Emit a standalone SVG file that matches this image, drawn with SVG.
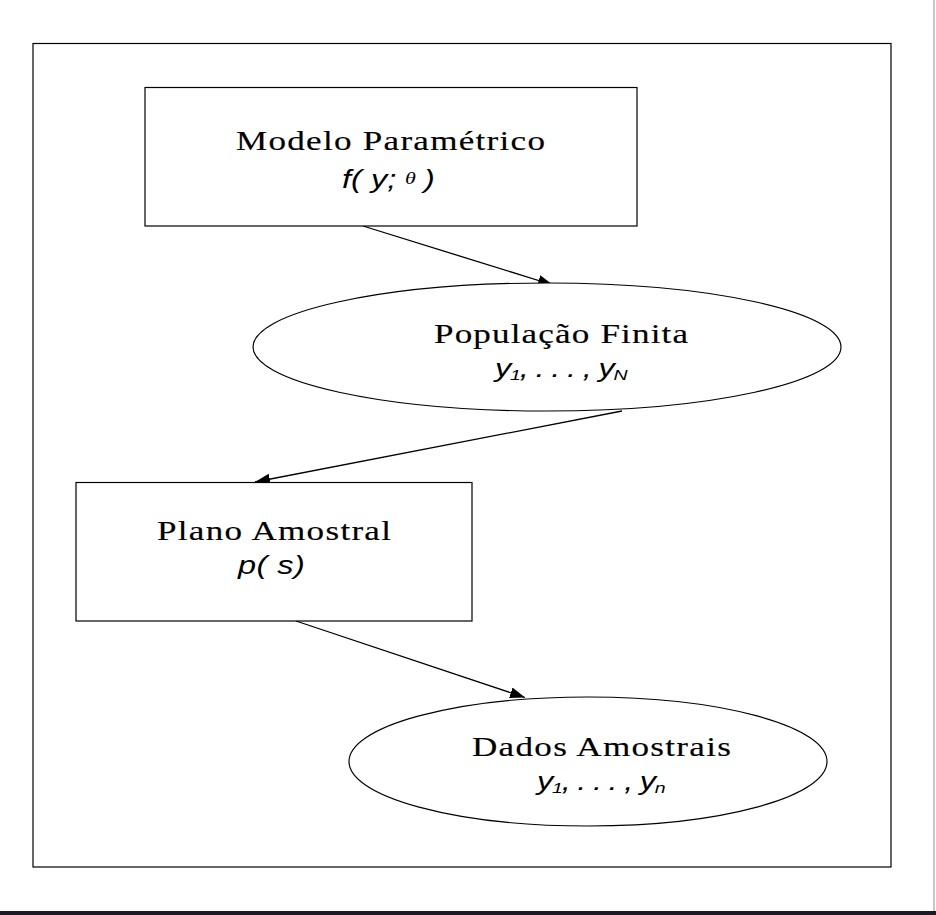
<svg xmlns="http://www.w3.org/2000/svg" width="936" height="915" viewBox="0 0 936 915">
<defs>
<style>
.frame{fill:none;stroke:#000;stroke-width:1.2}
.node{fill:#fff;stroke:#000;stroke-width:1.2}
.lbl{font-family:"Liberation Serif","Times New Roman",serif;font-size:27px;fill:#000;stroke:#000;stroke-width:0.15}
.m{font-family:"Liberation Sans",Arial,sans-serif;font-style:italic;font-size:25px;fill:#000}
.sub{font-size:15px}
.conn{stroke:#000;stroke-width:1.3;fill:none;marker-end:url(#ah)}
</style>
<marker id="ah" markerUnits="userSpaceOnUse" markerWidth="16" markerHeight="12" refX="15" refY="5.5" orient="auto">
<path d="M0,0 L15,5.5 L0,11 z" fill="#000"/>
</marker>
</defs>
<rect x="0" y="0" width="936" height="915" fill="#fff"/>
<line x1="934" y1="0" x2="934" y2="911" stroke="#c8c8c8" stroke-width="2"/>
<rect x="0" y="911" width="936" height="4" fill="#1b1a22"/>
<rect class="frame" x="33" y="43.5" width="858" height="823.5"/>

<g id="connectors">
<line class="conn" x1="363" y1="226" x2="553" y2="285"/>
<line class="conn" x1="622" y1="411" x2="255" y2="482"/>
<line class="conn" x1="296" y1="621" x2="525" y2="697.5"/>
</g>

<g id="modelo">
<rect class="node" x="145" y="87.5" width="492" height="138.5"/>
<text class="lbl" transform="translate(236,150) scale(1.3,1)" x="0" y="0" textLength="237.7" lengthAdjust="spacing">Modelo Paramétrico</text>
<text class="m" transform="translate(342,188) scale(1.3,1)" x="0" y="0">f(</text>
<text class="m" transform="translate(371,188) scale(1.3,1)" x="0" y="0">y;</text>
<text transform="translate(405,184) scale(1.3,1)" x="0" y="0" font-family="Liberation Serif,serif" font-style="italic" font-size="17">θ</text>
<text class="m" transform="translate(424,188) scale(1.3,1)" x="0" y="0">)</text>
</g>

<g id="populacao">
<ellipse class="node" cx="547" cy="347" rx="294" ry="64"/>
<text class="lbl" transform="translate(434,343) scale(1.3,1)" x="0" y="0" textLength="195.4" lengthAdjust="spacing">População Finita</text>
<text class="m" transform="translate(495,377) scale(1.3,1)" x="0" y="0" textLength="102" lengthAdjust="spacing">y<tspan class="sub" dy="3">1</tspan><tspan dy="-3">, . . . , y</tspan><tspan class="sub" dy="3">N</tspan></text>
</g>

<g id="plano">
<rect class="node" x="76" y="482.5" width="396" height="138.5"/>
<text class="lbl" transform="translate(157,540) scale(1.3,1)" x="0" y="0" textLength="180" lengthAdjust="spacing">Plano Amostral</text>
<text class="m" transform="translate(238,574) scale(1.3,1)" x="0" y="0" textLength="51.5" lengthAdjust="spacing">p( s)</text>
</g>

<g id="dados">
<ellipse class="node" cx="588" cy="761.5" rx="239" ry="64.5"/>
<text class="lbl" transform="translate(472,756) scale(1.3,1)" x="0" y="0" textLength="199.2" lengthAdjust="spacing">Dados Amostrais</text>
<text class="m" transform="translate(537,790) scale(1.3,1)" x="0" y="0" textLength="99" lengthAdjust="spacing">y<tspan class="sub" dy="3">1</tspan><tspan dy="-3">, . . . , y</tspan><tspan class="sub" dy="3">n</tspan></text>
</g>
</svg>
